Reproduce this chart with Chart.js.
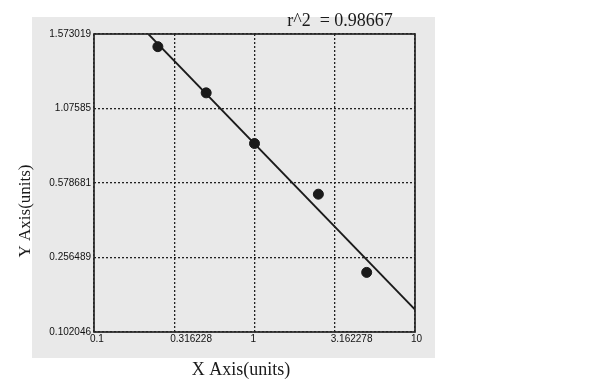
<!DOCTYPE html>
<html>
<head>
<meta charset="utf-8">
<script src="https://cdn.jsdelivr.net/npm/chart.js@4"></script>
<style>
  html, body { margin: 0; padding: 0; background: #ffffff; }
  canvas { display: block; }
</style>
</head>
<body>
<canvas id="curveChart" width="600" height="384"></canvas>
<script>
// Data
const xTickValues = [0.1, 0.316228, 1, 3.162278, 10];
const xTickLabels = ['0.1', '0.316228', '1', '3.162278', '10'];
const yTickLabels = ['0.102046', '0.256489', '0.578681', '1.07585', '1.573019'];

// Standard points: x in units, y in tick-step units (ticks are evenly spaced)
const pointX = [0.25, 0.5, 1, 2.5, 5];
const pointY = [3.83, 3.21, 2.53, 1.85, 0.80];

// Fitted line end points
const fitX = [0.218, 10];
const fitY = [4, 0.30];

const rSquaredText = 'r^2  = 0.98667';

const inkColor = '#1a1a1a';
const panelColor = '#e9e9e9';

const toPoints = (xs, ys) => xs.map((x, i) => ({ x: x, y: ys[i] }));

// Background panel, frame and free text
const decorPlugin = {
    id: 'decor',
    beforeDraw(chart) {
        const ctx = chart.ctx;
        ctx.save();
        ctx.fillStyle = '#ffffff';
        ctx.fillRect(0, 0, chart.width, chart.height);
        ctx.fillStyle = panelColor;
        ctx.fillRect(32, 17, 403, 341);
        ctx.restore();
    },
    afterDraw(chart) {
        const ctx = chart.ctx;
        const area = chart.chartArea;
        ctx.save();
        ctx.strokeStyle = '#262626';
        ctx.lineWidth = 1.7;
        ctx.strokeRect(area.left, area.top, area.right - area.left, area.bottom - area.top);

        ctx.fillStyle = inkColor;
        ctx.textAlign = 'center';
        ctx.textBaseline = 'middle';
        ctx.font = '18px "Liberation Serif"';
        ctx.fillText(rSquaredText, 340, 21);
        ctx.fillText('X Axis(units)', 241, 370);

        ctx.translate(26, 211);
        ctx.rotate(-Math.PI / 2);
        ctx.font = '17px "Liberation Serif"';
        ctx.fillText('Y Axis(units)', 0, 0);
        ctx.restore();
    }
};

const chartConfig = {
    type: 'scatter',
    data: {
        datasets: [{
            label: 'Fit',
            type: 'line',
            data: toPoints(fitX, fitY),
            borderColor: inkColor,
            borderWidth: 1.8,
            pointRadius: 0,
            fill: false
        }, {
            label: 'Standards',
            data: toPoints(pointX, pointY),
            backgroundColor: inkColor,
            borderColor: inkColor,
            pointRadius: 5
        }]
    },
    options: {
        responsive: false,
        animation: false,
        layout: {
            padding: { left: 0, right: 185, top: 34, bottom: 0 }
        },
        scales: {
            x: {
                type: 'logarithmic',
                min: 0.1,
                max: 10,
                afterBuildTicks: (scale) => {
                    scale.ticks = xTickValues.map(v => ({ value: v }));
                },
                afterFit: (scale) => { scale.height = 52; },
                grid: {
                    color: '#222222',
                    lineWidth: 1.3,
                    drawTicks: false
                },
                border: { display: false, dash: [2, 2] },
                ticks: {
                    autoSkip: false,
                    maxRotation: 0,
                    align: 'start',
                    labelOffset: -4,
                    padding: 1,
                    color: '#111111',
                    font: { family: 'Liberation Sans', size: 10 },
                    callback: (value, index) => xTickLabels[index]
                }
            },
            y: {
                type: 'linear',
                min: 0,
                max: 4,
                afterFit: (scale) => { scale.width = 94; },
                grid: {
                    color: '#222222',
                    lineWidth: 1.3,
                    drawTicks: false
                },
                border: { display: false, dash: [2, 2] },
                ticks: {
                    stepSize: 1,
                    padding: 3,
                    color: '#111111',
                    font: { family: 'Liberation Sans', size: 10 },
                    callback: (value) => yTickLabels[value]
                }
            }
        },
        plugins: {
            legend: { display: false },
            tooltip: { enabled: false }
        }
    },
    plugins: [decorPlugin]
};

new Chart(document.getElementById('curveChart').getContext('2d'), chartConfig);
</script>
</body>
</html>
